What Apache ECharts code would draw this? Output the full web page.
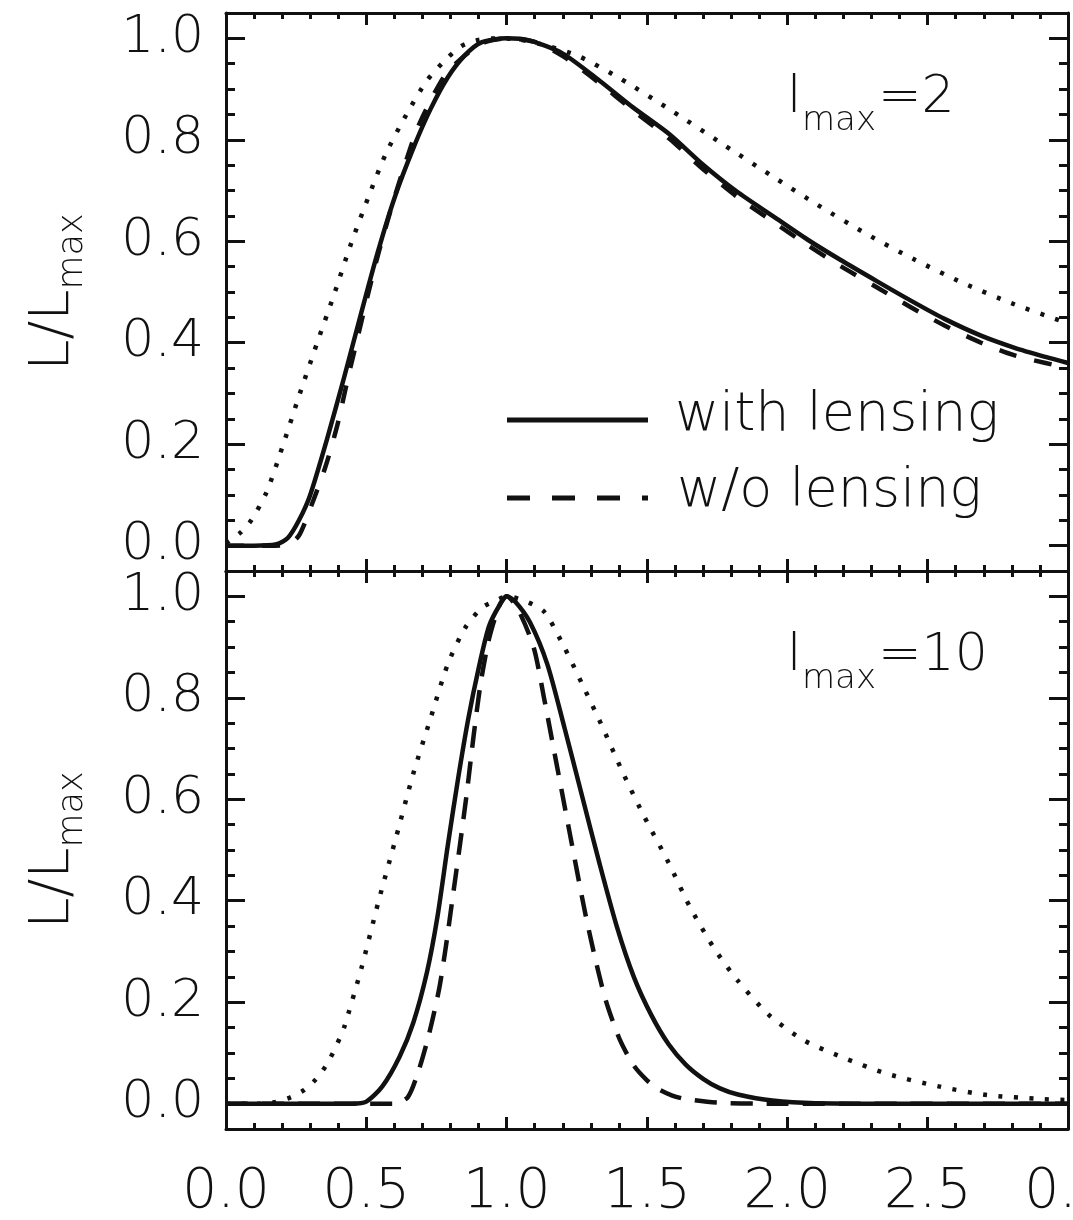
<!DOCTYPE html>
<html><head><meta charset="utf-8">
<script src="https://cdn.jsdelivr.net/npm/echarts@6/dist/echarts.min.js"></script>
<style>html,body{margin:0;padding:0;background:#fff}#c{width:1073px;height:1220px}</style>
</head><body><div id="c"></div>
<script>
// ---------- tick values / labels ----------
const xTickValues = [0, 0.5, 1.0, 1.5, 2.0, 2.5, 3.0];
const xTickLabels = ['0.0', '0.5', '1.0', '1.5', '2.0', '2.5', '0.0'];
const yTickValues = [0, 0.2, 0.4, 0.6, 0.8, 1.0];
const yTickLabels = ['0.0', '0.2', '0.4', '0.6', '0.8', '1.0'];
const yMinorValues = [0.05, 0.1, 0.15, 0.25, 0.3, 0.35, 0.45, 0.5, 0.55, 0.65, 0.7, 0.75, 0.85, 0.9, 0.95];

// ---------- top panel (l_max = 2) ----------
const topWithX = [0, 0.1, 0.18, 0.22, 0.26, 0.30, 0.36, 0.42, 0.48, 0.54, 0.60, 0.67, 0.73, 0.79, 0.85, 0.91, 1.0, 1.08, 1.2, 1.33, 1.45, 1.58, 1.70, 1.82, 1.95, 2.07, 2.19, 2.32, 2.44, 2.56, 2.69, 2.81, 2.92, 3.0];
const topWithY = [0, 0, 0.003, 0.015, 0.05, 0.10, 0.21, 0.33, 0.455, 0.577, 0.685, 0.787, 0.862, 0.923, 0.966, 0.992, 1.0, 0.996, 0.97, 0.917, 0.864, 0.811, 0.751, 0.698, 0.649, 0.604, 0.563, 0.521, 0.483, 0.447, 0.414, 0.39, 0.372, 0.36];
const topWithoutX = [0, 0.15, 0.22, 0.26, 0.305, 0.354, 0.397, 0.434, 0.471, 0.508, 0.544, 0.587, 0.636, 0.686, 0.777, 0.85, 0.92, 1.0, 1.1, 1.2, 1.33, 1.45, 1.58, 1.70, 1.82, 1.95, 2.07, 2.19, 2.32, 2.44, 2.56, 2.69, 2.81, 2.92, 3.0];
const topWithoutY = [0, 0, 0.002, 0.02, 0.08, 0.155, 0.238, 0.329, 0.415, 0.5, 0.578, 0.662, 0.749, 0.828, 0.925, 0.966, 0.992, 1.0, 0.993, 0.965, 0.912, 0.858, 0.802, 0.742, 0.688, 0.638, 0.593, 0.551, 0.509, 0.47, 0.434, 0.4, 0.375, 0.36, 0.35];
const topDotX = [0.0, 0.05, 0.09, 0.145, 0.2, 0.262, 0.323, 0.385, 0.446, 0.508, 0.569, 0.642, 0.716, 0.79, 0.839, 0.9, 0.97, 1.05, 1.145, 1.256, 1.404, 1.589, 1.774, 1.947, 2.107, 2.28, 2.453, 2.625, 2.798, 2.971, 3.0];
const topDotY = [0.005, 0.025, 0.05, 0.106, 0.193, 0.298, 0.397, 0.495, 0.596, 0.688, 0.772, 0.849, 0.917, 0.962, 0.985, 0.997, 1.0, 0.997, 0.985, 0.965, 0.921, 0.857, 0.79, 0.728, 0.672, 0.615, 0.564, 0.518, 0.478, 0.444, 0.44];

// ---------- bottom panel (l_max = 10) ----------
const botWithX = [0, 0.45, 0.5, 0.557, 0.618, 0.667, 0.716, 0.753, 0.79, 0.827, 0.863, 0.9, 0.937, 0.974, 1.0, 1.03, 1.083, 1.145, 1.206, 1.268, 1.33, 1.392, 1.453, 1.515, 1.577, 1.638, 1.7, 1.76, 1.824, 1.947, 2.1, 2.5, 3.0];
const botWithY = [0, 0, 0.004, 0.034, 0.092, 0.159, 0.259, 0.367, 0.508, 0.641, 0.758, 0.858, 0.941, 0.982, 1.0, 0.99, 0.949, 0.866, 0.741, 0.608, 0.475, 0.35, 0.25, 0.175, 0.117, 0.077, 0.049, 0.03, 0.018, 0.006, 0.001, 0, 0];
const botWithoutX = [0, 0.6, 0.648, 0.685, 0.722, 0.759, 0.783, 0.808, 0.833, 0.857, 0.882, 0.906, 0.937, 0.974, 1.0, 1.04, 1.096, 1.133, 1.176, 1.219, 1.25, 1.28, 1.318, 1.355, 1.404, 1.453, 1.5, 1.54, 1.59, 1.638, 1.75, 1.9, 2.2, 3.0];
const botWithoutY = [0, 0, 0.013, 0.063, 0.134, 0.225, 0.308, 0.408, 0.508, 0.608, 0.724, 0.824, 0.916, 0.982, 1.0, 0.975, 0.90, 0.80, 0.675, 0.55, 0.46, 0.375, 0.28, 0.2, 0.125, 0.075, 0.046, 0.029, 0.016, 0.009, 0.002, 0, 0, 0];
const botDotX = [0, 0.15, 0.175, 0.228, 0.276, 0.317, 0.353, 0.38, 0.406, 0.422, 0.483, 0.544, 0.606, 0.667, 0.728, 0.79, 0.851, 0.913, 0.974, 1.0, 1.06, 1.133, 1.206, 1.27, 1.336, 1.416, 1.49, 1.577, 1.651, 1.737, 1.824, 1.934, 2.058, 2.193, 2.354, 2.539, 2.711, 2.909, 3.0];
const botDotY = [0, 0, 0.003, 0.012, 0.026, 0.046, 0.072, 0.099, 0.13, 0.152, 0.268, 0.4, 0.525, 0.65, 0.758, 0.866, 0.937, 0.978, 0.995, 1.0, 0.992, 0.97, 0.899, 0.826, 0.749, 0.65, 0.566, 0.475, 0.39, 0.308, 0.242, 0.175, 0.125, 0.092, 0.059, 0.034, 0.017, 0.009, 0.007];

const FONT = 'DejaVu Sans';
const FW = 200;
const INK = '#111';
const zip = (xs, ys) => xs.map((x, i) => [x, ys[i]]);
const labelFrom = (vals, labels) => v => {
  const i = vals.findIndex(t => Math.abs(t - v) < 1e-6);
  return i >= 0 ? labels[i] : '';
};
const css = (size) => FW + ' ' + size + 'px "' + FONT + '"';

const chart = echarts.init(document.getElementById('c'), null, {renderer: 'canvas'});

const grids = [
  {left: 226, right: 5, top: 13, height: 558, outerBoundsMode: 'none'},
  {left: 226, right: 5, top: 571, height: 558, outerBoundsMode: 'none'}
];

function xAxes(g, showLabels) {
  const base = {
    gridIndex: g, type: 'value', min: 0, max: 3, interval: 0.5,
    splitLine: {show: false},
    axisLine: {show: true, onZero: false, lineStyle: {color: INK, width: 3}},
    axisTick: {show: true, inside: true, length: 12, lineStyle: {color: INK, width: 3}},
    minorTick: {show: true, splitNumber: 5, length: 6, lineStyle: {color: INK, width: 3}},
    minorSplitLine: {show: false}
  };
  return [
    Object.assign({}, base, {
      position: 'bottom',
      axisLabel: showLabels ? {
        show: true, customValues: xTickValues, formatter: labelFrom(xTickValues, xTickLabels),
        color: INK, fontFamily: FONT, fontWeight: FW, fontSize: 55, margin: 36
      } : {show: false}
    }),
    Object.assign({}, base, {position: 'top', axisLabel: {show: false}})
  ];
}

function yAxes(g) {
  const base = {
    gridIndex: g, type: 'value', min: -0.05, max: 1.05,
    splitLine: {show: false}
  };
  const major = {
    axisTick: {show: true, inside: true, length: 19, customValues: yTickValues, lineStyle: {color: INK, width: 3}}
  };
  const minor = {
    axisLine: {show: false, onZero: false},
    axisTick: {show: true, inside: true, length: 9, customValues: yMinorValues, lineStyle: {color: INK, width: 3}},
    axisLabel: {show: false}
  };
  return [
    Object.assign({}, base, major, {
      position: 'left',
      axisLine: {show: true, onZero: false, lineStyle: {color: INK, width: 3}},
      axisLabel: {
        show: true, customValues: yTickValues, formatter: labelFrom(yTickValues, yTickLabels),
        color: INK, fontFamily: FONT, fontWeight: FW, fontSize: 52, margin: 22
      },
      name: '{m|L/L}{s|max}',
      nameLocation: 'middle',
      nameGap: 136,
      nameTextStyle: {
        color: INK, fontFamily: FONT, fontWeight: FW,
        rich: {
          m: {fontFamily: FONT, fontWeight: FW, fontSize: 56, lineHeight: 74, color: INK, verticalAlign: 'middle'},
          s: {fontFamily: FONT, fontWeight: FW, fontSize: 35, lineHeight: 34, color: INK, verticalAlign: 'bottom'}
        }
      }
    }),
    Object.assign({}, base, minor, {position: 'left'}),
    Object.assign({}, base, major, {
      position: 'right',
      axisLine: {show: true, onZero: false, lineStyle: {color: INK, width: 3}},
      axisLabel: {show: false}
    }),
    Object.assign({}, base, minor, {position: 'right'})
  ];
}

function line(name, xi, yi, data, width, dash) {
  return {
    name, type: 'line', xAxisIndex: xi, yAxisIndex: yi, data,
    showSymbol: false, symbol: 'none', smooth: 0.25,
    animation: false, silent: true, z: 3,
    lineStyle: {color: INK, width, type: dash || 'solid', cap: 'butt', join: 'round'}
  };
}

const series = [
  line('with lensing (l=2)', 0, 0, zip(topWithX, topWithY), 4.5),
  line('w/o lensing (l=2)', 0, 0, zip(topWithoutX, topWithoutY), 4.5, [18, 18]),
  line('third (l=2)', 0, 0, zip(topDotX, topDotY), 4.5, [4, 11.5]),
  line('with lensing (l=10)', 2, 4, zip(botWithX, botWithY), 4.5),
  line('w/o lensing (l=10)', 2, 4, zip(botWithoutX, botWithoutY), 4.5, [22, 14]),
  line('third (l=10)', 2, 4, zip(botDotX, botDotY), 4.5, [4, 11.5])
];

function annot(dy, val) {
  return [
    {type: 'text', style: {text: 'l', fill: INK, font: css(52), textVerticalAlign: 'middle'}, position: [787, 98.6 + dy]},
    {type: 'text', style: {text: 'max', fill: INK, font: css(34), textVerticalAlign: 'middle'}, position: [802, 121 + dy]},
    {type: 'text', style: {text: '=' + val, fill: INK, font: css(52), textVerticalAlign: 'middle'}, position: [878, 98.6 + dy]}
  ];
}

const graphic = [
  {type: 'line', shape: {x1: 507, y1: 420, x2: 648, y2: 420}, style: {stroke: INK, lineWidth: 5}},
  {type: 'line', shape: {x1: 507, y1: 498, x2: 648, y2: 498}, style: {stroke: INK, lineWidth: 5, lineDash: [23, 22]}},
  {type: 'text', style: {text: 'with lensing', fill: INK, font: css(54), textVerticalAlign: 'middle'}, position: [675, 416]},
  {type: 'text', style: {text: 'w/o lensing', fill: INK, font: css(54), textVerticalAlign: 'middle'}, position: [677, 492]}
].concat(annot(0, '2'), annot(558, '10'));

chart.setOption({
  backgroundColor: '#ffffff',
  animation: false,
  grid: grids,
  xAxis: xAxes(0, false).concat(xAxes(1, true)),
  yAxis: yAxes(0).concat(yAxes(1)),
  series,
  graphic
});
</script>
</body></html>
